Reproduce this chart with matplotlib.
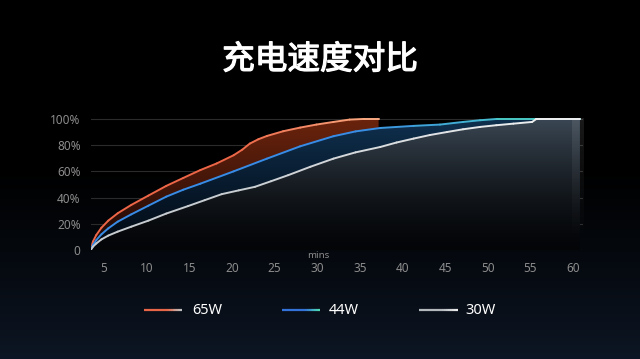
import numpy as np
import matplotlib
matplotlib.use("Agg")
import matplotlib.pyplot as plt
import matplotlib.patheffects as pe
from matplotlib.collections import LineCollection
from matplotlib.patches import Polygon

plt.rcParams['font.family'] = ['Noto Sans CJK SC', 'DejaVu Sans']

title = "充电速度对比"
series_names = ["65W", "44W", "30W"]

t65 = [3.45, 3.7, 4.1, 4.7, 5.5, 6.6, 8.2, 10.2, 12.3, 14.3, 16.3, 18.2, 20.2, 21.2, 22.1, 23.1, 24.1, 26.0, 28.0, 29.9, 31.9, 33.8, 35.5, 37.2]
v65 = [0, 6.4, 11.5, 17, 22.4, 28, 34.4, 41.5, 48.9, 55, 61, 66, 72.3, 76.5, 81.2, 84.5, 87, 90.6, 93.4, 95.7, 97.7, 99.5, 100, 100]

t44 = [3.45, 3.7, 4.1, 4.7, 5.5, 6.6, 8.2, 10.2, 12.3, 14.3, 16.3, 20.2, 24.1, 28.0, 31.9, 34.5, 37.4, 41.3, 44.4, 47.1, 49.1, 51.1, 60.8]
v44 = [0, 3.8, 7.6, 12, 16.5, 21.6, 27.2, 33.8, 40.7, 46, 50.6, 60, 69.7, 79.1, 86.8, 90.5, 93.1, 94.7, 95.7, 97.7, 99, 100, 100]

t30 = [3.45, 3.7, 4.1, 4.7, 5.5, 6.6, 8.2, 10.2, 12.3, 14.85, 16.8, 18.8, 20.8, 22.7, 24.6, 26.6, 29.2, 31.9, 34.5, 37.4, 39.3, 41.3, 43.2, 45.2, 47.1, 49.1, 51.0, 53.0, 55.2, 55.7, 60.8]
v30 = [0, 2.5, 5, 8.1, 11, 14, 17.8, 22.4, 27.8, 33.5, 38, 42.6, 45.5, 48.2, 52.5, 57.1, 63.5, 69.7, 74.5, 78.6, 82, 85, 87.7, 90, 92.1, 93.9, 95.2, 96.4, 97.7, 100, 100]

x_ticks = [5, 10, 15, 20, 25, 30, 35, 40, 45, 50, 55, 60]
y_ticks = [0, 20, 40, 60, 80, 100]
y_tick_labels = ["0", "20%", "40%", "60%", "80%", "100%"]

W, H = 640, 359
fig = plt.figure(figsize=(W / 100, H / 100), dpi=100)
fig.patch.set_facecolor("black")

# background gradient
bg = fig.add_axes([0, 0, 1, 1], zorder=-10)
bg.set_axis_off()
g = np.linspace(0, 1, 256)[:, None]
top = np.array([0.0, 0.0, 0.0])
bot = np.array([0.05, 0.085, 0.14])
ramp = np.clip((g - 0.45) / 0.55, 0, 1) ** 1.2
img = top[None, None, :] * (1 - ramp[..., None]) + bot[None, None, :] * ramp[..., None]
img = np.repeat(img, 2, axis=1)
bg.imshow(img, aspect="auto", extent=[0, 1, 0, 1], origin="upper")
bg.set_xlim(0, 1); bg.set_ylim(0, 1)

# main axes
x0, x1 = 3.475, 61.17
ymax = 103
ax = fig.add_axes([91 / W, (H - 250) / H, 492 / W, (250 - 115) / H])
ax.set_facecolor("none")
ax.set_xlim(x0, x1)
ax.set_ylim(0, ymax)
for s in ax.spines.values():
    s.set_visible(False)
ax.set_yticks(y_ticks)
ax.set_yticklabels(y_tick_labels)
ax.set_xticks(x_ticks)
ax.tick_params(axis="y", length=0, colors="#8c8c8c", labelsize=8.5, pad=7.5)
ax.tick_params(axis="x", length=0, colors="#8c8c8c", labelsize=8.5, pad=9)
for lab in ax.get_xticklabels() + ax.get_yticklabels():
    lab.set_fontfamily(["Noto Sans", "DejaVu Sans"])
ax.grid(axis="y", color="#2b2b2b", linewidth=0.8)
ax.set_axisbelow(True)


def grad_fill(xs, ys, ctop, cbot, z, gamma=1.0):
    px = [xs[0]] + list(xs) + [xs[-1]]
    py = [0] + list(ys) + [0]
    poly = Polygon(np.column_stack([px, py]), closed=True, facecolor="none", edgecolor="none")
    ax.add_patch(poly)
    gg = np.linspace(1, 0, 200)[:, None] ** gamma
    ctop = np.array(ctop); cbot = np.array(cbot)
    im = cbot[None, None, :] * (1 - gg[..., None]) + ctop[None, None, :] * gg[..., None]
    im = np.repeat(im, 2, axis=1)
    art = ax.imshow(im, aspect="auto", extent=[x0, x1, 0, 100], origin="upper",
                    zorder=z, interpolation="bilinear")
    art.set_clip_path(poly)


grad_fill(t65, v65, (0.42, 0.14, 0.05), (0.10, 0.03, 0.02), 1, 1.0)
grad_fill(t44, v44, (0.06, 0.19, 0.31), (0.01, 0.04, 0.08), 2, 1.2)
grad_fill(t30, v30, (0.23, 0.28, 0.33), (0.015, 0.02, 0.03), 3, 1.5)

# right edge lighter stripe
gg = np.linspace(1, 0, 100)[:, None]
stripe = np.zeros((100, 2, 4))
stripe[..., :3] = 0.85
stripe[..., 3] = (0.12 * gg ** 1.3)
ax.imshow(stripe, aspect="auto", extent=[59.85, 61.17, 0, 100], origin="upper", zorder=4)


def grad_line(xs, ys, c0, c1, z, start_frac=0.0):
    xs = np.asarray(xs, float); ys = np.asarray(ys, float)
    pts = np.column_stack([xs, ys]).reshape(-1, 1, 2)
    segs = np.concatenate([pts[:-1], pts[1:]], axis=1)
    mid = (xs[:-1] + xs[1:]) / 2
    f = np.clip((mid - xs[0]) / (xs[-1] - xs[0]), 0, 1)
    f = np.clip((f - start_frac) / (1 - start_frac), 0, 1)
    c0 = np.array(c0); c1 = np.array(c1)
    cols = c0[None, :] * (1 - f[:, None]) + c1[None, :] * f[:, None]
    lc = LineCollection(segs, colors=cols, linewidths=1.4, zorder=z, capstyle="round", joinstyle="round")
    ax.add_collection(lc)


grad_line(t65, v65, (0.93, 0.40, 0.28), (0.98, 0.68, 0.52), 6, 0.5)
grad_line(t44, v44, (0.22, 0.55, 0.90), (0.30, 0.85, 0.75), 6, 0.55)
grad_line(t30, v30, (0.78, 0.80, 0.82), (0.95, 0.95, 0.95), 6, 0.3)

ax.annotate("mins", xy=(30.1, 0), xycoords="data", xytext=(0, -0.5), textcoords="offset points",
            ha="center", va="top", fontsize=7, color="#8c8c8c",
            family=["Noto Sans", "DejaVu Sans"])

fig.text(0.5, (H - 60) / H, title, ha="center", va="center", color="white",
         fontsize=23.5, fontweight="normal",
         path_effects=[pe.withStroke(linewidth=0.9, foreground="white")])

# legend
ly = (H - 310) / H
legend_specs = [
    (144, 182, 192, (0.90, 0.40, 0.28), (0.75, 0.75, 0.75)),
    (282, 320, 329, (0.20, 0.45, 0.85), (0.30, 0.85, 0.70)),
    (419, 458, 465, (0.70, 0.72, 0.74), (0.92, 0.92, 0.92)),
]
for name, (a, b, tx, c0, c1) in zip(series_names, legend_specs):
    n = 20
    xs = np.linspace(a, b, n + 1) / W
    segs = [[(xs[i], ly), (xs[i + 1], ly)] for i in range(n)]
    f = np.linspace(0, 1, n)
    f = np.clip((f - 0.6) / 0.4, 0, 1)
    cols = np.array(c0)[None, :] * (1 - f[:, None]) + np.array(c1)[None, :] * f[:, None]
    lc = LineCollection(segs, colors=cols, linewidths=1.6, transform=fig.transFigure)
    fig.add_artist(lc)
    fig.text(tx / W, ly, name, ha="left", va="center", color="white", fontsize=10.5,
             family=["Noto Sans", "DejaVu Sans"], fontweight="medium")

fig.savefig("out.png", dpi=100, facecolor=fig.get_facecolor())
